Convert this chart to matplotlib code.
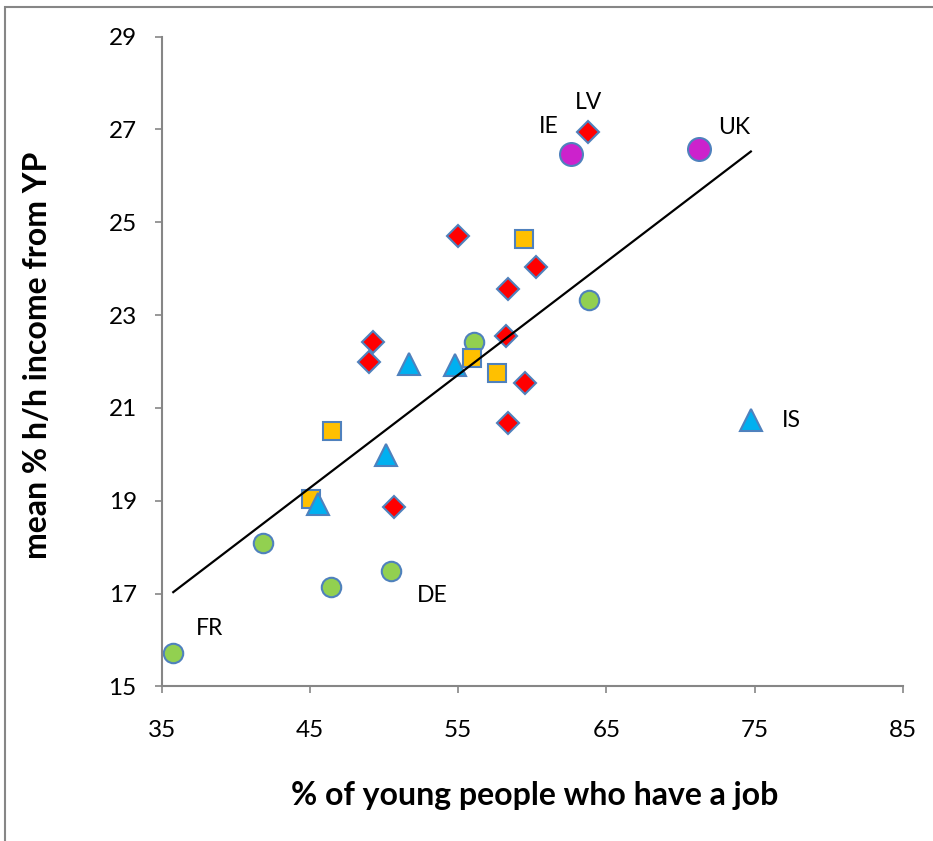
import numpy as np
import matplotlib
matplotlib.use("Agg")
import matplotlib.pyplot as plt
from matplotlib.patches import Rectangle

plt.rcParams["font.family"] = ["Lato", "DejaVu Sans"]

# 各组数据: x = 有工作的年轻人比例, y = 家庭收入中来自年轻人的比例
green_x = [35.78, 41.81, 46.40, 50.44, 56.06, 63.79]
green_y = [15.71, 18.08, 17.13, 17.49, 22.43, 23.33]

purple_x = [62.58, 71.25]
purple_y = [26.47, 26.57]

red_x = [63.77, 54.96, 60.22, 58.37, 58.24, 49.27, 48.96, 59.52, 58.37, 50.69]
red_y = [26.94, 24.71, 24.04, 23.57, 22.54, 22.41, 21.99, 21.54, 20.68, 18.86]

orange_x = [59.45, 55.95, 57.59, 46.50, 45.05]
orange_y = [24.65, 22.07, 21.75, 20.50, 19.03]

blue_x = [51.70, 54.81, 50.10, 45.56, 74.74]
blue_y = [21.94, 21.93, 19.98, 18.94, 20.75]

# 国家标注 (名称, x, y, 偏移)
labels = [("FR", 35.78, 15.71, (26, 18)),
          ("DE", 50.44, 17.49, (30, -18)),
          ("IE", 62.58, 26.47, (-16, 19.5)),
          ("LV", 63.77, 26.94, (0.5, 21.5)),
          ("UK", 71.25, 26.57, (25, 16)),
          ("IS", 74.74, 20.75, (29, -1))]

edge = "#4F81BD"

fig = plt.figure(figsize=(9.33, 8.41), dpi=100)
ax = fig.add_axes([0.1733, 0.1839, 0.7945, 0.7725])

# 趋势线
all_x = np.array(green_x + purple_x + red_x + orange_x + blue_x)
all_y = np.array(green_y + purple_y + red_y + orange_y + blue_y)
k, b = np.polyfit(all_x, all_y, 1)
lx = np.array([all_x.min(), all_x.max()])
ax.plot(lx, k * lx + b, color="black", lw=1.6, zorder=3)

ax.plot(green_x, green_y, "o", ms=14, mfc="#92D050", mec=edge, mew=1.5, ls="none", zorder=2)
ax.plot(purple_x, purple_y, "o", ms=16.5, mfc="#CC22CC", mec=edge, mew=1.5, ls="none", zorder=2)
ax.plot(red_x, red_y, "D", ms=11, mfc="#FF0000", mec=edge, mew=1.5, ls="none", zorder=2)
ax.plot(orange_x, orange_y, "s", ms=12.5, mfc="#FFC000", mec=edge, mew=1.5, ls="none", zorder=2)
ax.plot(blue_x, blue_y, "^", ms=16, mfc="#00B0F0", mec=edge, mew=1.5, ls="none", zorder=2)

for name, x, y, off in labels:
    ax.annotate(name, (x, y), xytext=off, textcoords="offset points",
                ha="center", va="center", fontsize=16.5)

ax.set_xlim(35, 85)
ax.set_ylim(15, 29)
ax.set_xticks(range(35, 86, 10))
ax.set_yticks(range(15, 30, 2))

for s in ["top", "right"]:
    ax.spines[s].set_visible(False)
for s in ["left", "bottom"]:
    ax.spines[s].set_color("#868686")
    ax.spines[s].set_linewidth(1.5)

ax.tick_params(axis="both", direction="out", length=5, width=1.2, color="#868686",
               labelsize=17.5)
ax.tick_params(axis="x", pad=19)
ax.tick_params(axis="y", pad=13)

ax.set_xlabel("% of young people who have a job", fontsize=23, fontweight="bold")
ax.set_ylabel("mean % h/h income from YP", fontsize=23, fontweight="bold")
ax.xaxis.set_label_coords(0.503, -0.145)
ax.yaxis.set_label_coords(-0.148, 0.51)

# 图表外框
fig.add_artist(Rectangle((5 / 933, -0.1), 1.2, 1.1 - 7 / 841, transform=fig.transFigure,
                         fill=False, ec="#868686", lw=1.5))

fig.savefig("out.png", dpi=100)
